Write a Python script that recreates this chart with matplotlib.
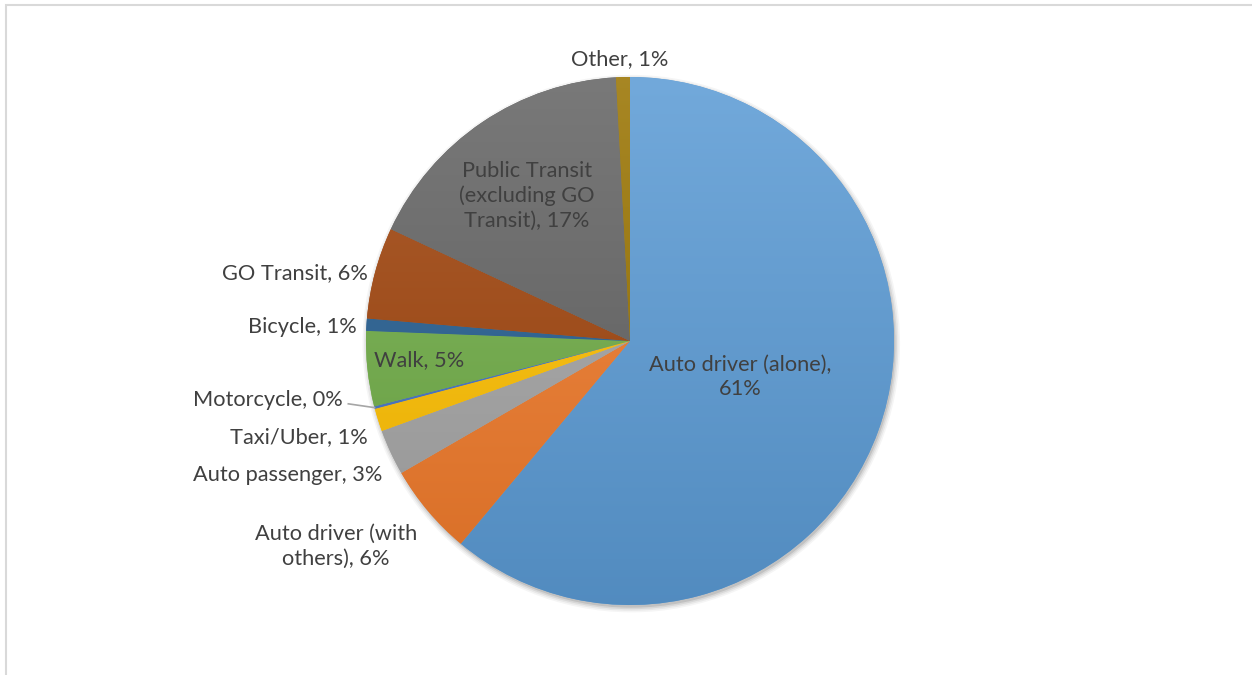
import numpy as np
import matplotlib
matplotlib.use('Agg')
import matplotlib.pyplot as plt
from matplotlib.colors import LinearSegmentedColormap, to_rgb
from matplotlib.patches import Rectangle, Circle

plt.rcParams['font.family'] = ['Lato', 'DejaVu Sans']

# commute mode share (%), clockwise from 12 o'clock
modes = ['Auto driver (alone)', 'Auto driver (with others)', 'Auto passenger',
         'Taxi/Uber', 'Motorcycle', 'Walk', 'Bicycle', 'GO Transit',
         'Public Transit (excluding GO Transit)', 'Other']
shares = [61.1, 5.6, 2.8, 1.4, 0.15, 4.6, 0.75, 5.6, 17.2, 0.85]
label_names = ['Auto driver (alone),\n', 'Auto driver (with\nothers), ', 'Auto passenger, ',
               'Taxi/Uber, ', 'Motorcycle, ', 'Walk, ', 'Bicycle, ', 'GO Transit, ',
               'Public Transit\n(excluding GO\nTransit), ', 'Other, ']
colors = ['#5B9BD5', '#F07A2A', '#A5A5A5', '#FFC000', '#4472C4', '#70AD47',
          '#255E91', '#A0440C', '#636363', '#997300']

# label layout: (x, y, ha) in pie units (radius 1)
label_layout = [(0.417, -0.136, 'center'), (-1.114, -0.777, 'center'),
                (-0.939, -0.508, 'right'), (-0.992, -0.364, 'right'),
                (-1.087, -0.223, 'right'), (-0.799, -0.072, 'center'),
                (-1.034, 0.053, 'right'), (-0.992, 0.258, 'right'),
                (-0.390, 0.549, 'center'), (-0.038, 1.068, 'center')]

W, H = 1252, 675
cx, cy, r = 630, 675 - 341, 264
fig = plt.figure(figsize=(W / 100, H / 100), dpi=100)
ax = fig.add_axes([(cx - r) / W, (cy - r) / H, 2 * r / W, 2 * r / H])
ax.set_aspect('equal')
ax.axis('off')

# soft shadow, mostly below and to the right
for i, a in enumerate([0.04, 0.05, 0.07, 0.10]):
    ax.add_patch(Circle((0.005, -0.01), 1.0 + 0.006 * (3 - i), color='black',
                        alpha=a, lw=0, zorder=0, clip_on=False))

wedges, _ = ax.pie(shares, colors=colors, startangle=90, counterclock=False,
                   wedgeprops=dict(linewidth=0), radius=1)

def mix(c, other, t):
    c = np.array(to_rgb(c))
    return tuple(c + (np.array(other) - c) * t)

grad = np.linspace(0, 1, 256).reshape(-1, 1)
for w, c in zip(wedges, colors):
    cmap = LinearSegmentedColormap.from_list('g', [mix(c, (1, 1, 1), 0.14), mix(c, (0, 0, 0), 0.1)])
    im = ax.imshow(grad, cmap=cmap, extent=[-1, 1, -1, 1], origin='upper',
                   aspect='auto', zorder=2, interpolation='bilinear')
    im.set_clip_path(w)

for name, v, (x, y, ha) in zip(label_names, shares, label_layout):
    ax.text(x, y, f'{name}{round(v)}%', ha=ha, va='center', multialignment='center',
            fontsize=15.7, color='#404040', zorder=4, linespacing=1.3)

# leader line for the tiny motorcycle slice
mw = wedges[4]
ang = np.deg2rad((mw.theta1 + mw.theta2) / 2)
lx, ly, _ = label_layout[4]
ax.plot([lx + 0.02, np.cos(ang)], [ly - 0.015, np.sin(ang)], color='#A6A6A6', lw=1.2,
        zorder=3, clip_on=False)

ax.set_xlim(-1, 1)
ax.set_ylim(-1, 1)

fig.patches.append(Rectangle((6 / W, -0.05), 1.1, (H - 5) / H + 0.05, transform=fig.transFigure,
                             fill=False, ec='#D9D9D9', lw=1.5))

fig.savefig('out.png', dpi=100, facecolor='white')
